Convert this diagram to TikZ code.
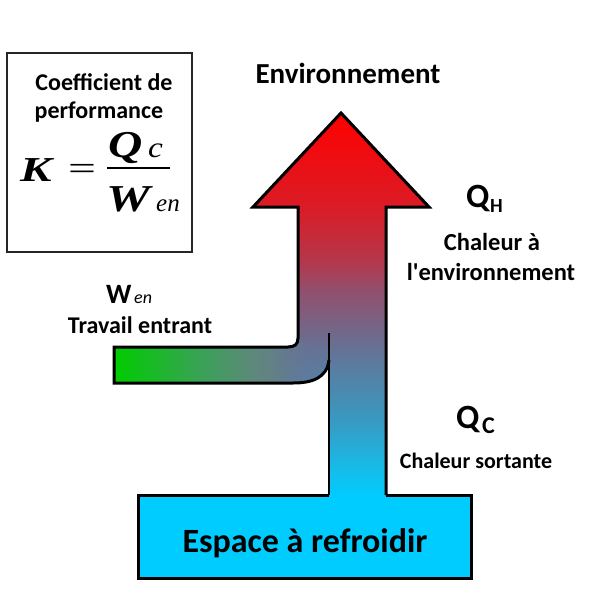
\documentclass[tikz,border=0pt]{standalone}
\usepackage{fontspec}
\usepackage{graphicx}
\usetikzlibrary{fadings}
\setmainfont{Carlito}
\newfontfamily\carlplain{Carlito}
\newfontfamily\tnr{Liberation Serif}
\definecolor{boxcyan}{RGB}{0,204,255}
\definecolor{hA}{RGB}{255,0,0}
\definecolor{hB}{RGB}{218,28,38}
\definecolor{hC}{RGB}{180,55,75}
\definecolor{hD}{RGB}{145,80,110}
\definecolor{hE}{RGB}{100,115,150}
\definecolor{hF}{RGB}{55,155,195}
\definecolor{hG}{RGB}{20,190,235}
\definecolor{gA}{RGB}{0,204,0}
\definecolor{gB}{RGB}{60,160,90}
\definecolor{gC}{RGB}{95,135,125}
\definecolor{gD}{RGB}{105,115,150}
\pgfdeclareverticalshading{heat}{100bp}{color(0bp)=(boxcyan); color(25bp)=(boxcyan); color(28.3bp)=(hG); color(34.8bp)=(hF); color(44bp)=(hE); color(51.8bp)=(hD); color(55.8bp)=(hC); color(62.7bp)=(hB); color(75bp)=(hA); color(100bp)=(hA)}
\pgfdeclarehorizontalshading{armsh}{100bp}{color(0bp)=(gA); color(25bp)=(gA); color(46bp)=(gB); color(58bp)=(gC); color(70bp)=(gD); color(100bp)=(gD)}
\pgfdeclarehorizontalshading{armfadesh}{100bp}{color(0bp)=(white); color(62bp)=(white); color(75bp)=(black); color(100bp)=(black)}
\pgfdeclarefading{armfade}{\pgfuseshading{armfadesh}}
\begin{document}
\begin{tikzpicture}[x=1pt,y=-1pt,
  outl/.style={line width=3pt,line join=miter,draw=black},
  lab/.style={inner sep=0pt,anchor=base,text=black},
  fml/.style={inner sep=0pt,anchor=base west,text=black}]
\useasboundingbox (0,0) rectangle (596,600);
% formula box
\draw[line width=1.3pt,draw=black!85] (7,53) rectangle (192,252);
\node[lab,font=\fontsize{24}{24}\selectfont\bfseries] (coef1) at (104,90) {Coefficient de};
\node[lab,font=\fontsize{24}{24}\selectfont\bfseries] (coef2) at (99,118) {performance};
\node[fml,font=\fontsize{35}{35}\selectfont\tnr\bfseries\itshape] (K) at (20,181) {\scalebox{1.35}[1]{K}};
\node[inner sep=0pt,font=\fontsize{33}{33}\selectfont\tnr] (eq) at (82,172) {\scalebox{1.5}[1]{=}};
\draw[line width=1.8pt] (107,168) -- (170,168);
\node[fml,font=\fontsize{38}{38}\selectfont\tnr\bfseries\itshape] (Q) at (108,157) {\scalebox{1.25}[1]{Q}};
\node[fml,font=\fontsize{29}{29}\selectfont\tnr\itshape] (c) at (148,157) {\scalebox{1.15}[1]{c}};
\node[fml,font=\fontsize{38}{38}\selectfont\tnr\bfseries\itshape] (W) at (106,211) {\scalebox{1.3}[1]{W}};
\node[fml,font=\fontsize{25}{25}\selectfont\tnr\itshape] (en) at (156,211) {en};
% cooled space box fill
\fill[boxcyan] (138,495) rectangle (471,578);
% main arrow
\shade[shading=heat] (114,347) -- (288,347) .. controls (295,347) and (298,344) .. (298,338) -- (298,207) -- (253,207) -- (341,113) -- (429,207) -- (386,207) -- (386,497) -- (329,497) -- (329,360) .. controls (327,378) and (312,383) .. (293,383) -- (114,383) -- cycle;
\begin{scope}
\clip (114,347) -- (288,347) .. controls (295,347) and (298,344) .. (298,338) -- (329,338) -- (329,360) .. controls (327,378) and (312,383) .. (293,383) -- (114,383) -- cycle;
\shade[shading=armsh,path fading=armfade] (114,340) rectangle (329,385);
\end{scope}
\draw[outl] (386,495) -- (386,207) -- (429,207) -- (341,113) -- (253,207) -- (298,207) -- (298,338) .. controls (298,344) and (295,347) .. (288,347) -- (114,347) -- (114,383) -- (293,383) .. controls (312,383) and (327,378) .. (329,360);
\draw[line width=2.6pt] (329,333) -- (329,495);
\draw[outl] (329,495) -- (138,495) -- (138,578) -- (471,578) -- (471,495) -- (386,495);
% labels
\node[lab,font=\fontsize{29}{29}\selectfont\bfseries] (env) at (348,83) {Environnement};
\node[fml,font=\fontsize{34}{34}\selectfont\bfseries] (QH) at (466,207) {Q};
\node[fml,font=\fontsize{20}{20}\selectfont\bfseries] (QHs) at (490,212) {H};
\node[lab,font=\fontsize{24.5}{24.5}\selectfont\bfseries] (ch1) at (492,250) {Chaleur à};
\node[lab,font=\fontsize{24.5}{24.5}\selectfont\carlplain\bfseries] (ch2) at (491,280) {l'environnement};
\node[fml,font=\fontsize{28}{28}\selectfont\bfseries] (Wl) at (106,303) {W};
\node[fml,font=\fontsize{18}{18}\selectfont\itshape] (Wls) at (134,303) {en};
\node[lab,font=\fontsize{24}{24}\selectfont\bfseries] (trav) at (140,333) {Travail entrant};
\node[fml,font=\fontsize{34}{34}\selectfont\bfseries] (QC) at (456,428) {Q};
\node[fml,font=\fontsize{24}{24}\selectfont\bfseries] (QCs) at (482,433) {C};
\node[lab,font=\fontsize{22}{22}\selectfont\bfseries] (chs) at (476,468) {Chaleur sortante};
\node[lab,font=\fontsize{34}{34}\selectfont\bfseries] (esp) at (305,552) {Espace à refroidir};
\end{tikzpicture}
\end{document}
